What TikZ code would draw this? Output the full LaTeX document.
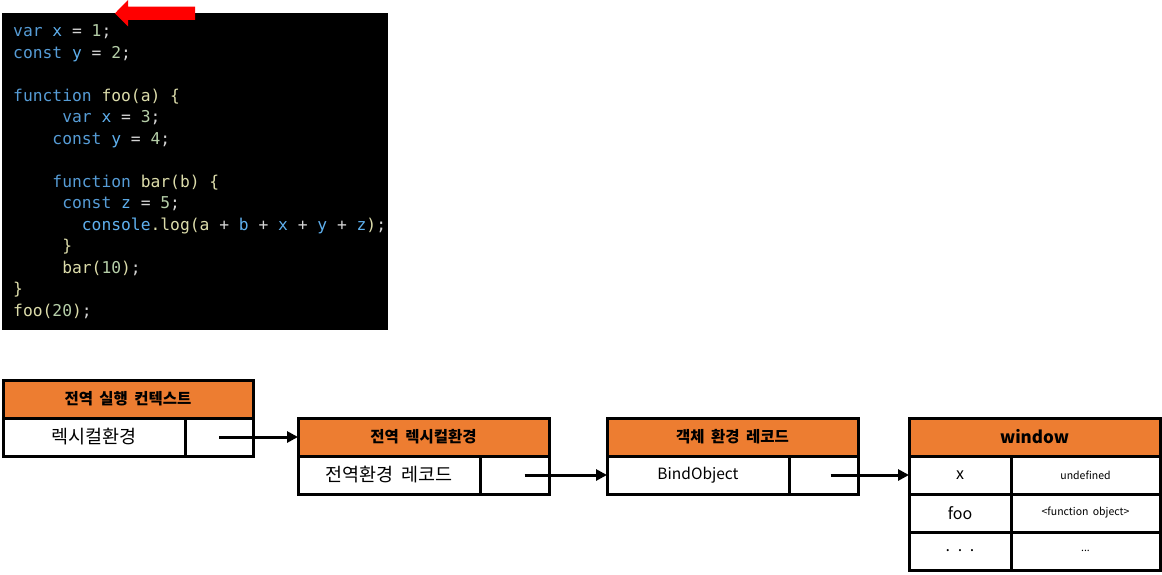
\documentclass[tikz,border=0pt]{standalone}
\usepackage{fontspec}
\setmonofont{DejaVu Sans Mono}
\newfontfamily\krfont[WordSpace=1.8]{Noto Sans CJK KR}
\usetikzlibrary{arrows.meta,positioning}
\definecolor{ctxorange}{HTML}{ED7D31}
\definecolor{jskw}{HTML}{569CD6}
\definecolor{jsid}{HTML}{5FB0EE}
\definecolor{jsfn}{HTML}{DCDCAA}
\definecolor{jsnum}{HTML}{B5CEA8}
\definecolor{jspunct}{HTML}{D4D4D4}
\newcommand{\kw}[1]{\textcolor{jskw}{#1}}
\newcommand{\id}[1]{\textcolor{jsid}{#1}}
\newcommand{\fn}[1]{\textcolor{jsfn}{#1}}
\newcommand{\nm}[1]{\textcolor{jsnum}{#1}}
\newcommand{\ind}[1]{\hspace*{#1\fontcharwd\font`0}}
\tikzstyle{hdr} = [rectangle, draw, fill=ctxorange, line width=3pt, outer sep=0pt,
    inner sep=0pt, minimum height=38pt, font=\krfont\bfseries\fontsize{15.5}{15.5}\selectfont]
\tikzstyle{cell} = [rectangle, draw, fill=white, line width=3pt, outer sep=0pt,
    inner sep=0pt, minimum height=38pt, font=\krfont\fontsize{18.5}{18.5}\selectfont]
\tikzstyle{small} = [font=\krfont\fontsize{10.5}{10.5}\selectfont]
\tikzstyle{link} = [-{Triangle[length=11pt,width=11pt]}, line width=3pt]

\begin{document}
\begin{tikzpicture}[x=1pt,y=-1pt]
  \useasboundingbox (0,0) rectangle (1162,575);

  % source code
  \fill[black] (2,13) rectangle (388,330);
  \node[anchor=north west, inner sep=0pt, align=left, text=jspunct,
        font=\ttfamily\fontsize{16.3}{21.5}\selectfont] (src) at (13,21.45)
  {\strut\kw{var} \id{x} = \nm{1};\\
   \kw{const} \id{y} = \nm{2};\\
   \mbox{}\\
   \kw{function} \fn{foo(a) \{}\\
   \ind{5}\kw{var} \id{x} = \nm{3};\\
   \ind{4}\kw{const} \id{y} = \nm{4};\\
   \mbox{}\\
   \ind{4}\kw{function} \fn{bar(b) \{}\\
   \ind{5}\kw{const} \id{z} = \nm{5};\\
   \ind{7}\id{console}\fn{.log(a} + \id{b} + \id{x} + \id{y} + \id{z}\fn{)};\\
   \ind{5}\fn{\}}\\
   \ind{5}\fn{bar(}\nm{10}\fn{)};\\
   \fn{\}}\\
   \fn{foo(}\nm{20}\fn{)};};
  \fill[red] (195,6.7) -- (128,6.7) -- (128,0) -- (115,13.3) -- (128,26.5)
             -- (128,20) -- (195,20) -- cycle;

  % global execution context
  \node[hdr, minimum width=250pt] (gech) at (128,399) {전역 실행 컨텍스트};
  \node[cell, minimum width=182pt, anchor=north west] (gecl) at (gech.south west) {렉시컬환경};
  \node[cell, minimum width=68pt, right=0pt of gecl] (gecr) {};

  % global lexical environment
  \node[hdr, minimum width=251pt] (lerh) at (423.5,437) {전역 렉시컬환경};
  \node[cell, minimum width=182pt, anchor=north west] (lerl) at (lerh.south west) {전역환경 레코드};
  \node[cell, minimum width=69pt, right=0pt of lerl] (lerr) {};

  % object environment record
  \node[hdr, minimum width=251pt] (oerh) at (732.5,437) {객체 환경 레코드};
  \node[cell, minimum width=182pt, anchor=north west, font=\krfont\fontsize{15.5}{15.5}\selectfont]
       (oerl) at (oerh.south west) {BindObject};
  \node[cell, minimum width=69pt, right=0pt of oerl] (oerr) {};

  % window object
  \node[hdr, minimum width=251pt, font=\krfont\bfseries\fontsize{17}{17}\selectfont]
       (winh) at (1034.5,437) {window};
  \node[cell, minimum width=102pt, anchor=north west, font=\krfont\fontsize{16}{16}\selectfont]
       (winx) at (winh.south west) {x};
  \node[cell, small, minimum width=149pt, right=0pt of winx] (winxv) {undefined};
  \node[cell, minimum width=102pt, anchor=north west, font=\krfont\fontsize{16}{16}\selectfont]
       (winfoo) at (winx.south west) {foo};
  \node[cell, small, minimum width=149pt, right=0pt of winfoo] (winfoov) {<function object>};
  \node[cell, minimum width=102pt, anchor=north west, font=\krfont\fontsize{16}{16}\selectfont]
       (windots) at (winfoo.south west) {. . .};
  \node[cell, small, minimum width=149pt, right=0pt of windots] (windotsv) {...};

  \draw[link] (gecr.center) -- (lerh.west);
  \draw[link] ([xshift=10pt]lerr.center) -- (oerl.west);
  \draw[link] ([xshift=7pt]oerr.center) -- (winx.west);
\end{tikzpicture}
\end{document}
